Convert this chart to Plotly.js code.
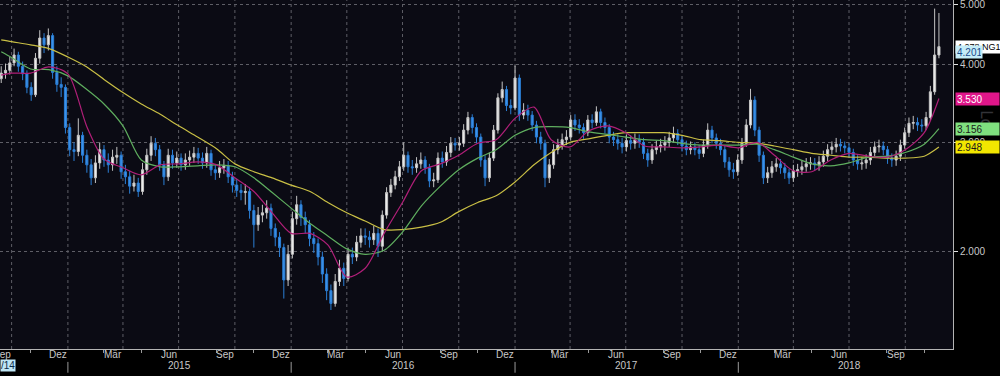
<!DOCTYPE html>
<html><head><meta charset="utf-8">
<script src="https://cdn.plot.ly/plotly-3.0.1.min.js"></script>
<style>html,body{margin:0;padding:0;background:#000;overflow:hidden}#chart{width:1000px;height:376px}</style>
</head><body><div id="chart"></div>
<script>
// Weekly sessions of NG1 (natural gas front month), first week starting 2014-09-14
const firstWeek = '2014-09-14';
const openP = [
3.80,3.88,3.92,4.03,4.15,3.98,3.87,3.68,3.58,4.10,
4.42,4.31,4.46,3.89,3.72,3.68,3.17,2.92,2.90,3.08,
2.86,2.76,2.63,2.78,2.92,2.81,2.76,2.84,2.86,2.69,
2.64,2.55,2.58,2.50,2.71,2.86,2.99,2.92,2.76,2.64,
2.86,2.78,2.83,2.76,2.81,2.84,2.88,2.83,2.78,2.88,
2.71,2.68,2.73,2.75,2.64,2.56,2.51,2.49,2.50,2.33,
2.21,2.29,2.31,2.35,2.18,2.11,2.03,1.80,1.98,2.26,
2.38,2.27,2.21,2.10,2.06,1.96,1.84,1.73,1.65,1.79,
1.88,1.81,1.98,1.96,2.07,2.12,2.11,2.09,2.14,2.04,
2.29,2.49,2.56,2.64,2.74,2.86,2.74,2.73,2.77,2.81,
2.73,2.60,2.61,2.83,2.79,2.89,2.99,2.97,2.99,3.14,
3.29,3.17,3.06,2.81,2.63,2.83,3.14,3.54,3.65,3.44,
3.41,3.81,3.32,3.38,3.32,3.20,3.06,2.99,2.63,2.76,
2.92,2.97,3.03,3.06,3.26,3.20,3.17,3.11,3.26,3.23,
3.36,3.23,3.17,3.06,3.03,2.99,2.95,3.02,2.99,3.03,
3.00,2.88,2.81,2.92,2.95,2.97,3.00,3.05,3.10,3.03,
2.96,2.92,2.95,2.92,2.88,2.97,3.14,3.05,2.99,2.92,
2.79,2.71,2.69,2.81,2.99,3.20,3.51,3.14,2.86,2.63,
2.68,2.74,2.77,2.73,2.68,2.63,2.70,2.71,2.74,2.77,
2.78,2.76,2.79,2.85,2.92,2.95,2.98,2.96,2.94,2.89,
2.81,2.77,2.78,2.81,2.89,2.95,2.96,2.92,2.83,2.81,
2.85,2.97,3.11,3.22,3.23,3.20,3.19,3.29,3.62,4.15];
const highP = [
3.98,4.02,4.12,4.25,4.20,4.05,3.92,3.75,4.18,4.55,
4.50,4.58,4.50,3.98,3.82,3.72,3.22,3.00,3.28,3.12,
2.92,2.82,2.86,3.00,2.97,2.88,2.92,2.95,2.90,2.76,
2.70,2.66,2.63,2.78,2.93,3.07,3.05,2.97,2.80,2.93,
2.92,2.90,2.88,2.88,2.91,2.95,2.94,2.89,2.95,2.92,
2.77,2.80,2.82,2.80,2.69,2.62,2.57,2.57,2.54,2.38,
2.36,2.38,2.42,2.39,2.22,2.15,2.06,2.05,2.32,2.46,
2.42,2.32,2.25,2.15,2.10,2.00,1.88,1.77,1.84,1.94,
1.92,2.03,2.03,2.12,2.18,2.18,2.16,2.20,2.18,2.33,
2.54,2.62,2.70,2.80,3.00,2.90,2.81,2.84,2.89,2.85,
2.77,2.68,2.89,2.90,2.96,3.06,3.05,3.06,3.21,3.36,
3.33,3.22,3.10,2.86,2.89,3.20,3.60,3.76,3.70,3.52,
3.99,3.86,3.47,3.45,3.37,3.25,3.12,3.03,2.82,2.98,
3.04,3.10,3.14,3.32,3.33,3.27,3.22,3.32,3.33,3.43,
3.40,3.29,3.21,3.12,3.09,3.05,3.09,3.08,3.10,3.09,
3.05,2.93,2.98,3.02,3.04,3.07,3.12,3.18,3.15,3.08,
3.02,3.01,3.00,2.97,3.03,3.22,3.19,3.10,3.04,2.96,
2.84,2.78,2.87,3.05,3.27,3.66,3.56,3.18,2.90,2.74,
2.80,2.83,2.82,2.78,2.72,2.76,2.77,2.80,2.83,2.84,
2.83,2.85,2.91,2.98,3.01,3.05,3.04,3.01,2.99,2.93,
2.86,2.84,2.87,2.95,3.01,3.03,3.01,2.96,2.88,2.91,
3.03,3.17,3.29,3.31,3.29,3.27,3.36,3.70,4.93,4.85];
const lowP = [
3.74,3.80,3.86,3.98,3.90,3.78,3.60,3.50,3.55,4.02,
4.18,4.22,3.80,3.62,3.55,3.10,2.85,2.80,2.85,2.78,
2.68,2.56,2.58,2.72,2.74,2.68,2.70,2.77,2.62,2.57,
2.48,2.50,2.45,2.47,2.66,2.80,2.85,2.70,2.56,2.60,
2.72,2.73,2.70,2.71,2.75,2.78,2.77,2.72,2.73,2.65,
2.61,2.63,2.67,2.58,2.49,2.45,2.42,2.38,2.26,2.03,
2.16,2.23,2.26,2.12,2.04,1.96,1.68,1.76,1.95,2.21,
2.20,2.14,2.04,1.99,1.90,1.78,1.67,1.61,1.63,1.76,
1.76,1.79,1.91,1.93,2.03,2.05,2.03,2.05,1.96,2.00,
2.26,2.45,2.52,2.60,2.70,2.68,2.66,2.68,2.72,2.67,
2.54,2.54,2.58,2.73,2.75,2.84,2.91,2.91,2.95,3.09,
3.10,2.99,2.74,2.55,2.59,2.80,3.10,3.48,3.37,3.33,
3.38,3.25,3.27,3.25,3.13,2.99,2.92,2.54,2.58,2.72,
2.87,2.92,2.97,3.02,3.13,3.10,3.04,3.07,3.16,3.19,
3.16,3.10,2.99,2.96,2.92,2.88,2.90,2.92,2.93,2.94,
2.82,2.74,2.77,2.87,2.89,2.91,2.95,3.00,2.97,2.90,
2.86,2.87,2.86,2.82,2.84,2.93,2.99,2.93,2.86,2.73,
2.64,2.62,2.65,2.77,2.95,3.16,3.07,2.79,2.57,2.58,
2.63,2.69,2.67,2.62,2.57,2.59,2.64,2.66,2.69,2.71,
2.70,2.70,2.74,2.80,2.87,2.89,2.90,2.88,2.83,2.75,
2.71,2.71,2.72,2.76,2.84,2.89,2.86,2.77,2.74,2.75,
2.80,2.93,3.06,3.15,3.13,3.12,3.14,3.25,3.58,4.10];
const closeP = [
3.88,3.92,4.03,4.15,3.98,3.87,3.68,3.58,4.10,4.42,
4.31,4.46,3.89,3.72,3.68,3.17,2.92,2.90,3.08,2.86,
2.76,2.63,2.78,2.92,2.81,2.76,2.84,2.86,2.69,2.64,
2.55,2.58,2.50,2.71,2.86,2.99,2.92,2.76,2.64,2.86,
2.78,2.83,2.76,2.81,2.84,2.88,2.83,2.78,2.88,2.71,
2.68,2.73,2.75,2.64,2.56,2.51,2.49,2.50,2.33,2.21,
2.29,2.31,2.35,2.18,2.11,2.03,1.80,1.98,2.26,2.38,
2.27,2.21,2.10,2.06,1.96,1.84,1.73,1.65,1.79,1.88,
1.81,1.98,1.96,2.07,2.12,2.11,2.09,2.14,2.04,2.29,
2.49,2.56,2.64,2.74,2.86,2.74,2.73,2.77,2.81,2.73,
2.60,2.61,2.83,2.79,2.89,2.99,2.97,2.99,3.14,3.29,
3.17,3.06,2.81,2.63,2.83,3.14,3.54,3.65,3.44,3.41,
3.81,3.32,3.38,3.32,3.20,3.06,2.99,2.63,2.76,2.92,
2.97,3.03,3.06,3.26,3.20,3.17,3.11,3.26,3.23,3.36,
3.23,3.17,3.06,3.03,2.99,2.95,3.02,2.99,3.03,3.00,
2.88,2.81,2.92,2.95,2.97,3.00,3.05,3.10,3.03,2.96,
2.92,2.95,2.92,2.88,2.97,3.14,3.05,2.99,2.92,2.79,
2.71,2.69,2.81,2.99,3.20,3.51,3.14,2.86,2.63,2.68,
2.74,2.77,2.73,2.68,2.63,2.70,2.71,2.74,2.77,2.78,
2.76,2.79,2.85,2.92,2.95,2.98,2.96,2.94,2.89,2.81,
2.77,2.78,2.81,2.89,2.95,2.96,2.92,2.83,2.81,2.85,
2.97,3.11,3.22,3.23,3.20,3.19,3.29,3.62,4.15,4.28];

// Moving averages, read at month starts
const maDates = ['2014-09-14','2014-10-01','2014-11-01','2014-12-01',
 '2015-01-01','2015-02-01','2015-03-01','2015-04-01','2015-05-01','2015-06-01','2015-07-01','2015-08-01','2015-09-01','2015-10-01','2015-11-01','2015-12-01',
 '2016-01-01','2016-02-01','2016-03-01','2016-04-01','2016-05-01','2016-06-01','2016-07-01','2016-08-01','2016-09-01','2016-10-01','2016-11-01','2016-12-01',
 '2017-01-01','2017-02-01','2017-03-01','2017-04-01','2017-05-01','2017-06-01','2017-07-01','2017-08-01','2017-09-01','2017-10-01','2017-11-01','2017-12-01',
 '2018-01-01','2018-02-01','2018-03-01','2018-04-01','2018-05-01','2018-06-01','2018-07-01','2018-08-01','2018-09-01','2018-10-01','2018-11-01','2018-11-25'];
const maFast = [3.85,3.88,3.88,3.97,
 3.87,3.18,2.82,2.73,2.66,2.76,2.77,2.79,2.76,2.63,2.50,2.31,
 2.14,2.14,2.05,1.82,1.88,2.14,2.40,2.70,2.77,2.86,2.99,3.03,
 3.28,3.42,3.03,2.95,3.13,3.19,3.11,2.96,2.95,2.94,2.95,2.97,
 2.94,3.00,2.86,2.70,2.69,2.81,2.88,2.85,2.84,2.92,3.11,3.530];
const maMid = [4.20,4.11,3.94,3.93,
 3.84,3.65,3.46,3.19,2.81,2.74,2.74,2.75,2.76,2.74,2.63,2.49,
 2.35,2.22,2.12,2.02,1.98,2.01,2.15,2.37,2.55,2.71,2.83,2.92,
 3.08,3.17,3.18,3.17,3.12,3.09,3.06,3.03,3.02,2.99,2.97,2.97,
 2.97,2.98,2.92,2.84,2.77,2.75,2.78,2.84,2.85,2.89,2.98,3.156];
const maSlow = [4.39,4.36,4.31,4.25,
 4.12,3.97,3.79,3.61,3.46,3.33,3.19,3.06,2.93,2.77,2.69,2.63,
 2.56,2.50,2.40,2.31,2.24,2.17,2.17,2.19,2.23,2.32,2.40,2.46,
 2.59,2.76,2.89,3.00,3.04,3.08,3.11,3.11,3.11,3.08,3.03,3.02,
 3.00,2.99,2.96,2.92,2.88,2.86,2.84,2.84,2.83,2.83,2.85,2.948];

const monthTickVals = ['2014-09-15','2014-12-15','2015-03-15','2015-06-15','2015-09-15','2015-12-15','2016-03-15','2016-06-15','2016-09-15','2016-12-15','2017-03-15','2017-06-15','2017-09-15','2017-12-15','2018-03-15','2018-06-15','2018-09-15'];
const monthTickText = ['Sep','Dez','Mär','Jun','Sep','Dez','Mär','Jun','Sep','Dez','Mär','Jun','Sep','Dez','Mär','Jun','Sep'];
const yearLabels = ['2015','2016','2017','2018'];
const yearCenters = ['2015-07-02','2016-07-02','2017-07-02','2018-07-02'];
const yearStarts = ['2015-01-01','2016-01-01','2017-01-01','2018-01-01'];
const gridDates = ['2014-10-01','2015-01-01','2015-04-01','2015-07-01','2015-10-01','2016-01-01','2016-04-01','2016-07-01','2016-10-01','2017-01-01','2017-04-01','2017-07-01','2017-10-01','2018-01-01','2018-04-01','2018-07-01','2018-10-01'];
const yTickVals = [2,3,4,5];
const yTickText = ['2.000','3.000','4.000','5.000'];
const tagValues = [3.530, 3.156, 2.948, 4.278, 4.201];
const tagTexts = ['3.530','3.156','2.948','4.278 NG1','4.201'];
const tagBg = ['#e0168a','#7fe07f','#f2e600','#ffffff','#c4ecf8'];
const tagFg = ['#ffffff','#1a1a1a','#1a1a1a','#000000','#1a4a8a'];
const tagWidth = [41,41,41,44,24];
const tagFontSize = [10,10,10,9,10];

const weekDates = closeP.map((_, i) => new Date(Date.UTC(2014, 8, 14) + i * 7 * 86400000).toISOString().slice(0, 10));

const narrow = 'Liberation Sans Narrow, Liberation Sans, Arial, sans-serif';
const traces = [
  {type:'scatter', mode:'lines', x:maDates, y:maSlow, line:{color:'#c9bf45', width:1.2, shape:'spline', smoothing:0.8}, hoverinfo:'skip'},
  {type:'scatter', mode:'lines', x:maDates, y:maMid, line:{color:'#5fae5f', width:1.2, shape:'spline', smoothing:0.8}, hoverinfo:'skip'},
  {type:'scatter', mode:'lines', x:maDates, y:maFast, line:{color:'#b01f78', width:1.2, shape:'spline', smoothing:0.8}, hoverinfo:'skip'},
  {type:'candlestick', x:weekDates, open:openP, high:highP, low:lowP, close:closeP,
   increasing:{line:{color:'#c4c4c4', width:1}, fillcolor:'#ececec'},
   decreasing:{line:{color:'#2b7fd6', width:1}, fillcolor:'#3d92ea'},
   whiskerwidth:0, hoverinfo:'none'}
];

const shapes = gridDates.map(d => ({type:'line', xref:'x', yref:'paper', x0:d, x1:d, y0:0, y1:1, layer:'below', line:{color:'#5e5e66', width:1, dash:'dot'}}));
yearStarts.forEach(d => shapes.push({type:'line', xref:'x', yref:'paper', x0:d, x1:d, y0:-0.037, y1:-0.068, line:{color:'#9a9a9a', width:1}}));

const annotations = [];
monthTickVals.forEach((d, i) => annotations.push({xref:'x', yref:'paper', x:d, y:-0.017, yanchor:'middle', showarrow:false, text:monthTickText[i], font:{family:narrow, size:10, color:'#c8c8c8'}}));
yearLabels.forEach((t, i) => annotations.push({xref:'x', yref:'paper', x:yearCenters[i], y:-0.048, yanchor:'middle', showarrow:false, text:t, font:{family:narrow, size:10, color:'#c8c8c8'}}));
annotations.push({xref:'paper', yref:'paper', x:0, y:-0.048, xanchor:'left', yanchor:'middle', showarrow:false, text:'/14', bgcolor:'#bfe6f5', borderpad:0, font:{family:narrow, size:10, color:'#0a2a4a'}});
annotations.push({xref:'paper', yref:'paper', x:1.035, y:0.66, xanchor:'center', yanchor:'middle', showarrow:false, text:'Lo', textangle:90, font:{family:'DejaVu Sans', size:15, color:'#333338'}});
tagValues.forEach((v, i) => annotations.push({xref:'paper', yref:'y', x:1, xshift:2, y:Math.log10(v), xanchor:'left', yanchor:'middle', showarrow:false,
  text:tagTexts[i], bgcolor:tagBg[i], width:tagWidth[i], height:10, align:'left', borderpad:1, font:{family:narrow, size:tagFontSize[i], color:tagFg[i]}}));

const layout = {
  width:1000, height:376,
  paper_bgcolor:'#000000', plot_bgcolor:'#0b0b14',
  margin:{l:0, r:47, t:0, b:27},
  showlegend:false,
  xaxis:{type:'date', range:['2014-09-12','2018-12-18'], rangeslider:{visible:false},
    showticklabels:false, ticks:'', showgrid:false,
    showline:true, linecolor:'#b4b4b4', linewidth:1, zeroline:false, automargin:false, fixedrange:true,
    minor:{tickmode:'auto', dtick:'M1', tick0:'2014-10-01', ticks:'outside', ticklen:3, tickcolor:'#9a9a9a', showgrid:false}},
  yaxis:{type:'log', side:'right', range:[Math.log10(1.393), Math.log10(5.09)],
    tickmode:'array', tickvals:yTickVals, ticktext:yTickText, ticks:'outside', ticklen:4, tickcolor:'#e0e0e0',
    ticklabeloverflow:'allow',
    showgrid:true, gridcolor:'#5e5e66', griddash:'dot', gridwidth:1,
    showline:true, linecolor:'#b4b4b4', linewidth:1, zeroline:false, automargin:false, fixedrange:true,
    tickfont:{family:narrow, size:10, color:'#c8c8c8'}},
  shapes:shapes, annotations:annotations
};
Plotly.newPlot('chart', traces, layout, {staticPlot:true, displayModeBar:false});
</script></body></html>
